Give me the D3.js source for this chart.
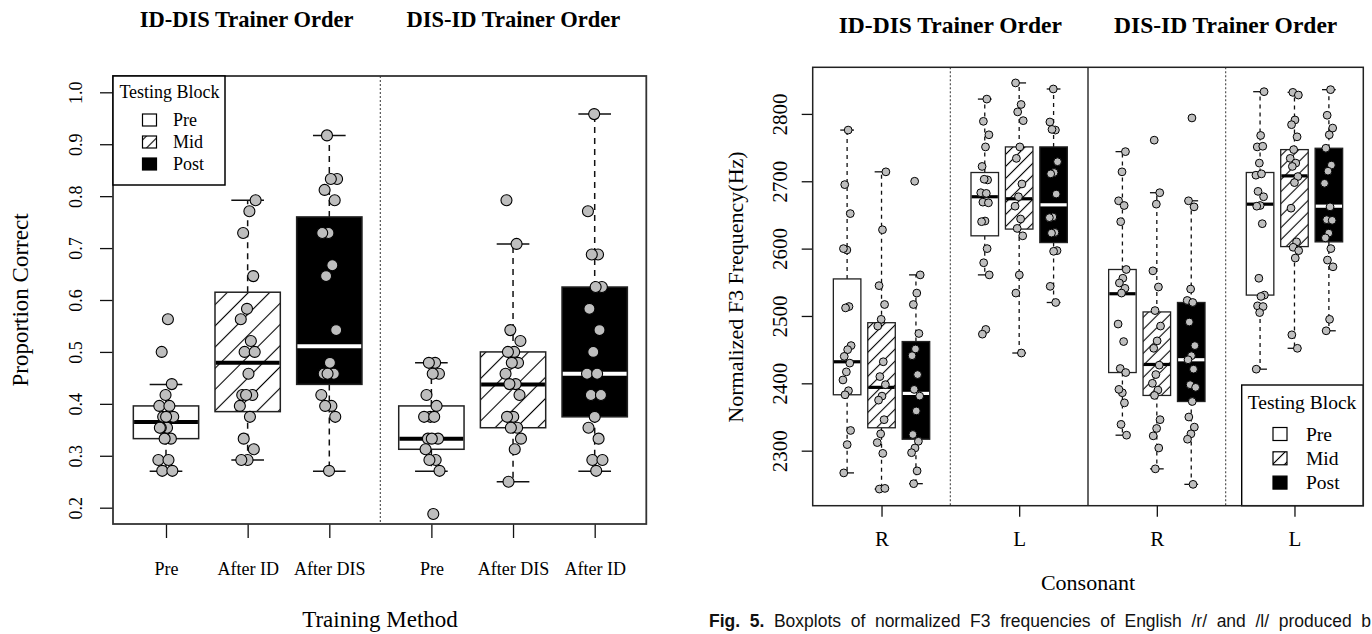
<!DOCTYPE html>
<html><head><meta charset="utf-8">
<script src="https://cdn.jsdelivr.net/npm/d3@7/dist/d3.min.js"></script>
<style>
body{margin:0;background:#fff;}
svg{display:block;font-family:"Liberation Serif","Times New Roman",serif;}
</style></head><body>
<svg id="chart" width="1372" height="634"></svg>
<script>
// ---------------- DATA ----------------
const blocks = ["Pre", "Mid", "Post"];
const orderTitles = ["ID-DIS Trainer Order", "DIS-ID Trainer Order"];

// Left panel: proportion correct
const leftCategories = ["Pre", "After ID", "After DIS", "Pre", "After DIS", "After ID"];
const leftBlockOfBox = ["Pre", "Mid", "Post", "Pre", "Mid", "Post"];
const leftYTicks = [0.2, 0.3, 0.4, 0.5, 0.6, 0.7, 0.8, 0.9, 1.0];
const leftLowerWhisker = [0.27, 0.292, 0.27, 0.27, 0.25, 0.27];
const leftQ1 = [0.333, 0.385, 0.4375, 0.3125, 0.354, 0.375];
const leftMedian = [0.365, 0.479, 0.511, 0.333, 0.4375, 0.458];
const leftQ3 = [0.396, 0.615, 0.76, 0.396, 0.5, 0.625];
const leftUpperWhisker = [0.4375, 0.792, 0.917, 0.479, 0.708, 0.958];
const leftPoints = [
  [0.563, 0.5, 0.438, 0.417, 0.396, 0.396, 0.375, 0.375, 0.354, 0.354, 0.333, 0.333, 0.292, 0.292, 0.271, 0.271, 0.375, 0.354],
  [0.792, 0.771, 0.729, 0.646, 0.583, 0.563, 0.521, 0.5, 0.5, 0.458, 0.417, 0.417, 0.417, 0.396, 0.375, 0.333, 0.3125, 0.292, 0.292],
  [0.917, 0.833, 0.833, 0.812, 0.792, 0.729, 0.729, 0.667, 0.646, 0.542, 0.479, 0.458, 0.458, 0.458, 0.417, 0.396, 0.396, 0.375, 0.271],
  [0.479, 0.479, 0.458, 0.458, 0.417, 0.396, 0.375, 0.375, 0.375, 0.333, 0.333, 0.333, 0.3125, 0.292, 0.292, 0.271, 0.188],
  [0.792, 0.708, 0.542, 0.521, 0.5, 0.5, 0.479, 0.479, 0.458, 0.438, 0.438, 0.417, 0.375, 0.375, 0.354, 0.354, 0.333, 0.3125, 0.25],
  [0.958, 0.771, 0.6875, 0.6875, 0.625, 0.625, 0.583, 0.542, 0.5, 0.458, 0.458, 0.417, 0.417, 0.375, 0.354, 0.333, 0.292, 0.292, 0.271]
];

// Right panel: normalized F3 frequency
const rightCategories = ["R", "L", "R", "L"];
const rightYTicks = [2300, 2400, 2500, 2600, 2700, 2800];
const rightLowerWhisker = [2267, 2243, 2251, 2561, 2445, 2520, 2323, 2273, 2250, 2421, 2452, 2478];
const rightQ1 = [2383, 2334, 2317, 2619, 2629, 2609, 2416, 2382, 2373, 2531, 2603, 2610];
const rightMedian = [2432, 2394, 2385, 2677, 2674, 2665, 2533, 2428, 2435, 2666, 2708, 2663];
const rightQ3 = [2555, 2490, 2462, 2713, 2751, 2751, 2569, 2506, 2520, 2713, 2747, 2749];
const rightUpperWhisker = [2776, 2714, 2561, 2822, 2846, 2837, 2744, 2683, 2671, 2833, 2832, 2836];
const rightPoints = [
  [2776, 2695, 2652, 2598, 2600, 2514, 2512, 2456, 2450, 2440, 2430, 2417, 2405, 2389, 2383, 2330, 2309, 2267],
  [2714, 2628, 2545, 2517, 2495, 2485, 2432, 2410, 2398, 2381, 2375, 2346, 2325, 2312, 2296, 2243, 2244],
  [2700, 2561, 2534, 2517, 2474, 2451, 2441, 2413, 2391, 2381, 2359, 2324, 2314, 2304, 2297, 2270, 2251],
  [2822, 2789, 2769, 2751, 2722, 2702, 2703, 2683, 2682, 2669, 2668, 2641, 2640, 2600, 2579, 2561, 2480, 2473],
  [2846, 2814, 2803, 2790, 2751, 2734, 2696, 2677, 2663, 2644, 2630, 2619, 2561, 2534, 2445],
  [2837, 2788, 2776, 2777, 2729, 2713, 2711, 2681, 2647, 2646, 2624, 2623, 2597, 2596, 2544, 2520],
  [2744, 2714, 2671, 2664, 2640, 2569, 2556, 2549, 2541, 2534, 2488, 2462, 2422, 2416, 2386, 2391, 2371, 2339, 2323],
  [2761, 2683, 2666, 2567, 2543, 2508, 2485, 2463, 2452, 2427, 2413, 2400, 2390, 2382, 2346, 2333, 2322, 2304, 2273],
  [2794, 2671, 2662, 2540, 2523, 2520, 2491, 2456, 2441, 2435, 2421, 2398, 2394, 2373, 2350, 2335, 2325, 2317, 2250],
  [2833, 2768, 2751, 2752, 2727, 2709, 2711, 2685, 2677, 2664, 2663, 2637, 2556, 2531, 2529, 2515, 2514, 2505, 2421],
  [2832, 2828, 2791, 2784, 2766, 2747, 2734, 2727, 2722, 2707, 2698, 2660, 2610, 2602, 2597, 2586, 2472, 2452],
  [2836, 2798, 2779, 2769, 2749, 2724, 2715, 2697, 2662, 2643, 2642, 2623, 2616, 2600, 2583, 2573, 2495, 2478]
];

const captionBold = "Fig. 5.";
const captionText = " Boxplots of normalized F3 frequencies of English /r/ and /l/ produced b";

// ---------------- DRAW ----------------
const svg = d3.select("#chart");
const defs = svg.append("defs");
function makeHatch(id, s) {
  const p = defs.append("pattern").attr("id", id).attr("patternUnits", "userSpaceOnUse")
    .attr("width", s).attr("height", s).attr("patternTransform", "rotate(45)");
  p.append("rect").attr("width", s).attr("height", s).attr("fill", "#fff");
  p.append("line").attr("x1", s / 2).attr("x2", s / 2).attr("y1", 0).attr("y2", s)
    .attr("stroke", "#000").attr("stroke-width", 1.1);
}
makeHatch("hatchL", 15);
makeHatch("hatchR", 8.5);

function fillFor(block, hatchId) {
  return block === "Pre" ? "#fff" : block === "Mid" ? `url(#${hatchId})` : "#000";
}

function drawBoxes(o) {
  const g = svg.append("g");
  const n = o.positions.length;
  const idx = d3.range(n);
  const bw = o.bw;
  idx.forEach(i => {
    const p = o.positions[i];
    g.append("line").attr("x1", o.x(p)).attr("x2", o.x(p))
      .attr("y1", o.y(o.q3[i])).attr("y2", o.y(o.upper[i]))
      .attr("stroke", "#111").attr("stroke-width", o.lw).attr("stroke-dasharray", o.dash);
    g.append("line").attr("x1", o.x(p)).attr("x2", o.x(p))
      .attr("y1", o.y(o.q1[i])).attr("y2", o.y(o.lower[i]))
      .attr("stroke", "#111").attr("stroke-width", o.lw).attr("stroke-dasharray", o.dash);
    [o.upper[i], o.lower[i]].forEach(v => {
      g.append("line").attr("x1", o.x(p - bw / 4)).attr("x2", o.x(p + bw / 4))
        .attr("y1", o.y(v)).attr("y2", o.y(v))
        .attr("stroke", "#111").attr("stroke-width", o.lw);
    });
  });
  g.selectAll("rect.box").data(idx).join("rect").attr("class", "box")
    .attr("x", i => o.x(o.positions[i] - bw / 2))
    .attr("width", i => o.x(o.positions[i] + bw / 2) - o.x(o.positions[i] - bw / 2))
    .attr("y", i => o.y(o.q3[i]))
    .attr("height", i => o.y(o.q1[i]) - o.y(o.q3[i]))
    .attr("fill", i => fillFor(o.blockOf[i], o.hatchId))
    .attr("stroke", "#222").attr("stroke-width", o.lw);
  g.selectAll("line.med").data(idx).join("line").attr("class", "med")
    .attr("x1", i => o.x(o.positions[i] - bw / 2) + o.lw / 2)
    .attr("x2", i => o.x(o.positions[i] + bw / 2) - o.lw / 2)
    .attr("y1", i => o.y(o.med[i])).attr("y2", i => o.y(o.med[i]))
    .attr("stroke", i => o.blockOf[i] === "Post" ? "#fff" : "#000")
    .attr("stroke-width", o.medW);
  const pts = [];
  o.points.forEach((arr, i) => arr.forEach((v, k) => {
    const u = ((k + 1) * 0.6180339887 + i * 0.37) % 1;
    pts.push({ p: o.positions[i] + (u - 0.5) * 2 * o.jit, v });
  }));
  g.selectAll("circle").data(pts).join("circle")
    .attr("cx", d => o.x(d.p)).attr("cy", d => o.y(d.v)).attr("r", o.r)
    .attr("fill", "#bebebe").attr("stroke", "#000").attr("stroke-width", o.ptStroke);
}

// ===== LEFT PANEL =====
const L = { l: 113, r: 646.3, t: 76, b: 524 };
const leftPos = leftCategories.map((c, i) => i + 1 + (i >= 3 ? 0.25 : 0));
const xL = d3.scaleLinear().domain([0.351, 6.882]).range([L.l, L.r]);
const yL = d3.scaleLinear().domain([0.1686, 1.0314]).range([L.b, L.t]);

svg.append("line").attr("x1", xL(3.625)).attr("x2", xL(3.625)).attr("y1", L.t).attr("y2", L.b)
  .attr("stroke", "#555").attr("stroke-width", 1.2).attr("stroke-dasharray", "2,2");

drawBoxes({ x: xL, y: yL, positions: leftPos, lower: leftLowerWhisker, q1: leftQ1, med: leftMedian,
  q3: leftQ3, upper: leftUpperWhisker, points: leftPoints, blockOf: leftBlockOfBox, bw: 0.8,
  lw: 1.5, medW: 4, r: 5.5, ptStroke: 1.1, jit: 0.1, hatchId: "hatchL", dash: "6,5" });

const yAxL = svg.append("g").attr("transform", `translate(${L.l},0)`)
  .call(d3.axisLeft(yL).tickValues(leftYTicks).tickFormat(d3.format(".1f")).tickSize(13));
yAxL.select(".domain").remove();
yAxL.selectAll(".tick line").attr("stroke", "#111").attr("stroke-width", 1.3);
yAxL.selectAll(".tick text").attr("x", null).attr("dy", null).attr("transform", "translate(-31,0) rotate(-90)")
  .attr("text-anchor", "middle").attr("fill", "#000").style("font-size", "18px").style("font-family", "Liberation Serif");

const xAxL = svg.append("g").attr("transform", `translate(0,${L.b})`)
  .call(d3.axisBottom(xL).tickValues(leftPos).tickFormat((d, i) => leftCategories[i]).tickSize(14));
xAxL.select(".domain").remove();
xAxL.selectAll(".tick line").attr("stroke", "#111").attr("stroke-width", 1.3);
xAxL.selectAll(".tick text").attr("y", 51).attr("dy", null).attr("fill", "#000")
  .style("font-size", "18px").style("font-family", "Liberation Serif");

svg.append("rect").attr("x", L.l).attr("y", L.t).attr("width", L.r - L.l).attr("height", L.b - L.t)
  .attr("fill", "none").attr("stroke", "#333").attr("stroke-width", 1.8);

const lg = svg.append("g");
lg.append("rect").attr("x", L.l).attr("y", L.t).attr("width", 112).attr("height", 109)
  .attr("fill", "#fff").attr("stroke", "#000").attr("stroke-width", 1.5);
lg.append("text").attr("x", 169.5).attr("y", 98).attr("text-anchor", "middle").style("font-size", "18px").text("Testing Block");
blocks.forEach((b, i) => {
  const cy = 120 + i * 22;
  lg.append("rect").attr("x", 142.5).attr("y", cy - 6).attr("width", 14).attr("height", 12)
    .attr("fill", fillFor(b, "hatchR")).attr("stroke", "#000").attr("stroke-width", 1.2);
  lg.append("text").attr("x", 173).attr("y", cy + 6).style("font-size", "18px").text(b);
});

svg.append("text").attr("x", (L.l + xL(3.625)) / 2).attr("y", 27).attr("text-anchor", "middle")
  .style("font-size", "22.5px").style("font-weight", "bold").text(orderTitles[0]);
svg.append("text").attr("x", (xL(3.625) + L.r) / 2).attr("y", 27).attr("text-anchor", "middle")
  .style("font-size", "22.5px").style("font-weight", "bold").text(orderTitles[1]);
svg.append("text").attr("transform", `translate(28,300) rotate(-90)`).attr("text-anchor", "middle")
  .style("font-size", "23px").text("Proportion Correct");
svg.append("text").attr("x", 380).attr("y", 627).attr("text-anchor", "middle")
  .style("font-size", "23px").text("Training Method");

// ===== RIGHT PANEL =====
const R = { l: 812.7, r: 1363.3, t: 67.3, b: 505.7 };
const rightPos = d3.range(12).map(i => Math.floor(i / 3) * 4 + (i % 3) + 1);
const rightBlockOfBox = d3.range(12).map(i => blocks[i % 3]);
const rightCatPos = rightCategories.map((c, i) => i * 4 + 2);
const xR = d3.scaleLinear().domain([0, 16]).range([R.l, R.r]);
const yR = d3.scaleLinear().domain([2218.3, 2869.2]).range([R.b, R.t]);

[4, 12].forEach(p => svg.append("line").attr("x1", xR(p)).attr("x2", xR(p)).attr("y1", R.t).attr("y2", R.b)
  .attr("stroke", "#555").attr("stroke-width", 1.2).attr("stroke-dasharray", "2,2"));
svg.append("line").attr("x1", xR(8)).attr("x2", xR(8)).attr("y1", R.t).attr("y2", R.b)
  .attr("stroke", "#333").attr("stroke-width", 1.5);

drawBoxes({ x: xR, y: yR, positions: rightPos, lower: rightLowerWhisker, q1: rightQ1, med: rightMedian,
  q3: rightQ3, upper: rightUpperWhisker, points: rightPoints, blockOf: rightBlockOfBox, bw: 0.8,
  lw: 1.3, medW: 3.2, r: 3.9, ptStroke: 1, jit: 0.13, hatchId: "hatchR", dash: "4,4" });

const yAxR = svg.append("g").attr("transform", `translate(${R.l},0)`)
  .call(d3.axisLeft(yR).tickValues(rightYTicks).tickFormat(d3.format("d")).tickSize(11));
yAxR.select(".domain").remove();
yAxR.selectAll(".tick line").attr("stroke", "#111").attr("stroke-width", 1.3);
yAxR.selectAll(".tick text").attr("x", null).attr("dy", null).attr("transform", "translate(-26,0) rotate(-90)")
  .attr("text-anchor", "middle").attr("fill", "#000").style("font-size", "21px").style("font-family", "Liberation Serif");

const xAxR = svg.append("g").attr("transform", `translate(0,${R.b})`)
  .call(d3.axisBottom(xR).tickValues(rightCatPos).tickFormat((d, i) => rightCategories[i]).tickSize(11));
xAxR.select(".domain").remove();
xAxR.selectAll(".tick line").attr("stroke", "#111").attr("stroke-width", 1.3);
xAxR.selectAll(".tick text").attr("y", 40).attr("dy", null).attr("fill", "#000")
  .style("font-size", "21px").style("font-family", "Liberation Serif");

const rg = svg.append("g");
rg.append("rect").attr("x", 1241.7).attr("y", 385).attr("width", R.r - 1241.7).attr("height", R.b - 385)
  .attr("fill", "#fff").attr("stroke", "#000").attr("stroke-width", 1.4);
rg.append("text").attr("x", 1302).attr("y", 409).attr("text-anchor", "middle").style("font-size", "19.5px").text("Testing Block");
blocks.forEach((b, i) => {
  const cy = 434 + i * 24.3;
  rg.append("rect").attr("x", 1273).attr("y", cy - 6.5).attr("width", 14).attr("height", 13)
    .attr("fill", fillFor(b, "hatchR")).attr("stroke", "#000").attr("stroke-width", 1.2);
  rg.append("text").attr("x", 1306).attr("y", cy + 6.5).style("font-size", "19.5px").text(b);
});

svg.append("rect").attr("x", R.l).attr("y", R.t).attr("width", R.r - R.l).attr("height", R.b - R.t)
  .attr("fill", "none").attr("stroke", "#222").attr("stroke-width", 1.5);

svg.append("text").attr("x", (R.l + xR(8)) / 2).attr("y", 33).attr("text-anchor", "middle")
  .style("font-size", "23.5px").style("font-weight", "bold").text(orderTitles[0]);
svg.append("text").attr("x", (xR(8) + R.r) / 2).attr("y", 33).attr("text-anchor", "middle")
  .style("font-size", "23.5px").style("font-weight", "bold").text(orderTitles[1]);
svg.append("text").attr("transform", `translate(743,287) rotate(-90)`).attr("text-anchor", "middle")
  .style("font-size", "22px").text("Normalized F3 Frequency(Hz)");
svg.append("text").attr("x", 1088).attr("y", 590).attr("text-anchor", "middle")
  .style("font-size", "22px").text("Consonant");

const cap = svg.append("text").attr("x", 709).attr("y", 627)
  .style("font-family", "'Liberation Sans', Arial, sans-serif").style("font-size", "17.5px").attr("fill", "#111");
cap.append("tspan").style("font-weight", "bold").text(captionBold);
cap.append("tspan").text(captionText);
const natural = cap.node().getComputedTextLength();
const spaces = (captionBold + captionText).split(" ").length - 1;
cap.style("word-spacing", ((1371 - 709 - natural) / spaces) + "px");
</script>
</body></html>
